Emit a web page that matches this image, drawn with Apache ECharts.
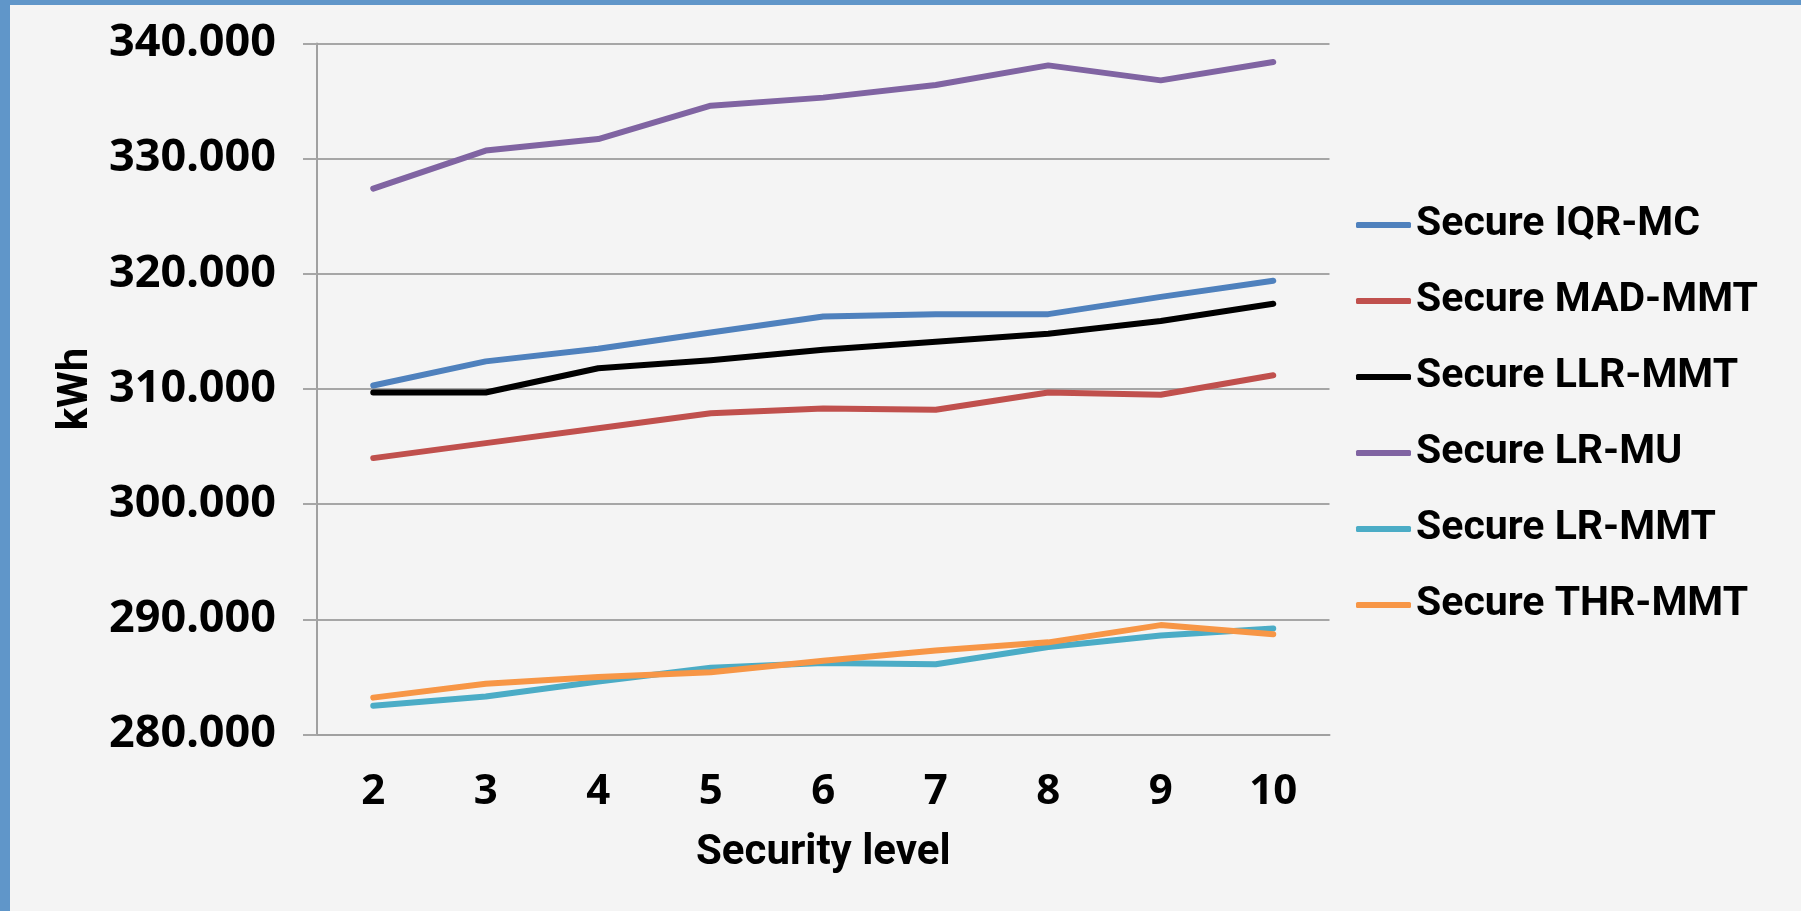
<!DOCTYPE html>
<html>
<head>
<meta charset="utf-8">
<script src="https://cdn.jsdelivr.net/npm/echarts@6/dist/echarts.min.js"></script>
<style>
  html, body { margin: 0; padding: 0; background: #f4f4f4; }
  #wrap { position: relative; width: 1801px; height: 911px; overflow: hidden; background: #f4f4f4; }
  #chart { position: absolute; left: 0; top: 0; width: 1801px; height: 911px; }
  .edge { position: absolute; background: #6096c9; }
</style>
</head>
<body>
<div id="wrap">
  <div id="chart"></div>
  <div class="edge" style="left:0;top:0;width:1801px;height:5px;"></div>
  <div class="edge" style="left:0;top:0;width:10px;height:911px;"></div>
</div>
<script>
// Security levels on the x axis
const securityLevels = ['2', '3', '4', '5', '6', '7', '8', '9', '10'];

// Energy consumption per policy (kWh)
const iqrMc   = [310300, 312400, 313500, 314900, 316300, 316500, 316500, 318000, 319400];
const madMmt  = [304000, 305300, 306600, 307900, 308300, 308200, 309700, 309500, 311200];
const llrMmt  = [309700, 309700, 311800, 312500, 313400, 314100, 314800, 315900, 317400];
const lrMu    = [327400, 330700, 331700, 334600, 335300, 336400, 338100, 336800, 338400];
const lrMmt   = [282500, 283300, 284600, 285800, 286200, 286100, 287600, 288600, 289200];
const thrMmt  = [283200, 284400, 285000, 285400, 286400, 287300, 288000, 289500, 288700];

const seriesNames = ['Secure IQR-MC', 'Secure MAD-MMT', 'Secure LLR-MMT', 'Secure LR-MU', 'Secure LR-MMT', 'Secure THR-MMT'];
const seriesData = [iqrMc, madMmt, llrMmt, lrMu, lrMmt, thrMmt];
const seriesColors = ['#4f81bd', '#c0504d', '#000000', '#8064a2', '#4bacc6', '#f79646'];

// y axis range and step (kWh)
const yMin = 280000, yMax = 340000, yStep = 10000;

const TEXT_FONT = 'Roboto, "Noto Sans", sans-serif';
const NUM_FONT = '"Noto Sans", Roboto, sans-serif';

function groupThousands(v) {
  return String(v).replace(/\B(?=(\d{3})+(?!\d))/g, '.');
}

const chart = echarts.init(document.getElementById('chart'), null, { renderer: 'canvas' });

chart.setOption({
  backgroundColor: '#f4f4f4',
  animation: false,
  textStyle: { fontFamily: TEXT_FONT },
  grid: {
    left: 317, right: 471.5, top: 43.5, bottom: 176.5,
    containLabel: false,
    outerBoundsMode: 'none'
  },
  legend: {
    orient: 'vertical',
    left: 1351,
    top: 199,
    icon: 'roundRect',
    itemWidth: 55,
    itemHeight: 6,
    itemGap: 34,
    textStyle: { fontFamily: TEXT_FONT, fontSize: 41, fontWeight: 'bold', color: '#000', lineHeight: 42 },
    data: seriesNames
  },
  xAxis: {
    type: 'category',
    data: securityLevels,
    boundaryGap: true,
    name: 'Security level',
    nameLocation: 'middle',
    nameGap: 98,
    nameTextStyle: { fontFamily: TEXT_FONT, fontSize: 42, fontWeight: 'bold', color: '#000' },
    axisLine: { show: true, lineStyle: { color: '#a0a0a0', width: 2 } },
    axisTick: { show: false },
    axisLabel: { fontFamily: NUM_FONT, fontSize: 42, fontWeight: 'bold', color: '#000', margin: 37 },
    splitLine: { show: false }
  },
  yAxis: {
    type: 'value',
    min: yMin,
    max: yMax,
    interval: yStep,
    name: 'kWh',
    nameLocation: 'middle',
    nameGap: 220,
    nameRotate: 90,
    nameTextStyle: { fontFamily: TEXT_FONT, fontSize: 42, fontWeight: 'bold', color: '#000' },
    axisLine: { show: true, lineStyle: { color: '#a0a0a0', width: 2 } },
    axisTick: { show: true, length: 14, inside: false, lineStyle: { color: '#a6a6a6', width: 2 } },
    axisLabel: {
      fontFamily: NUM_FONT, fontSize: 45, fontWeight: 'bold', color: '#000', margin: 41,
      padding: [6, 0, 0, 0],
      formatter: groupThousands
    },
    splitLine: { show: true, lineStyle: { color: '#a6a6a6', width: 2 } }
  },
  series: seriesNames.map((name, i) => ({
    name: name,
    type: 'line',
    data: seriesData[i],
    symbol: 'none',
    smooth: false,
    color: seriesColors[i],
    itemStyle: { color: seriesColors[i] },
    lineStyle: { color: seriesColors[i], width: 6, cap: 'round', join: 'round' },
    emphasis: { disabled: true }
  }))
});
</script>
</body>
</html>
